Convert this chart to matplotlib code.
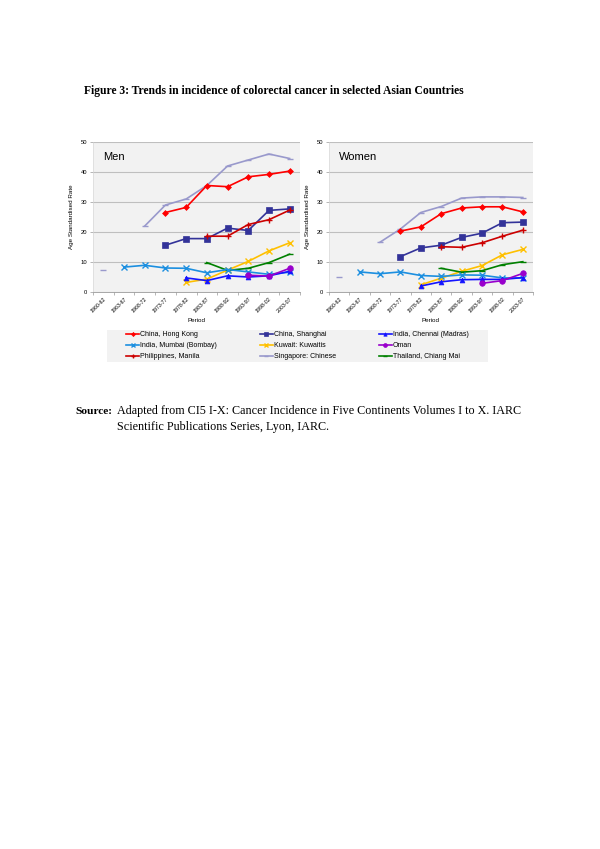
import numpy as np
import matplotlib
matplotlib.use("Agg")
from matplotlib import pyplot as plt
from matplotlib.patches import Rectangle

periods = ["1960-62", "1963-67", "1968-72", "1973-77", "1978-82",
           "1983-87", "1988-92", "1993-97", "1998-02", "2003-07"]
nan = np.nan

# Men, age standardised rate per period
men = {
    "China, Hong Kong":         [nan, nan, nan, 26.5, 28.2, 35.5, 35.1, 38.4, 39.2, 40.3],
    "China, Shanghai":          [nan, nan, nan, 15.6, 17.8, 17.8, 21.3, 20.5, 27.2, 27.7],
    "India, Chennai (Madras)":  [nan, nan, nan, nan, 4.7, 3.8, 5.4, 5.0, 5.4, 6.9],
    "India, Mumbai (Bombay)":   [nan, 8.3, 8.9, 8.0, 7.9, 6.4, 7.5, 6.7, 5.9, 6.6],
    "Kuwait: Kuwaitis":         [nan, nan, nan, nan, 3.2, 4.3, 7.3, 10.2, 13.7, 16.4],
    "Oman":                     [nan, nan, nan, nan, nan, nan, nan, 5.6, 5.3, 7.9],
    "Philippines, Manila":      [nan, nan, nan, nan, nan, 18.6, 18.6, 22.5, 24.1, 27.3],
    "Singapore: Chinese":       [7.5, nan, 22.0, 29.0, 31.0, 35.5, 42.0, 44.0, 46.0, 44.5],
    "Thailand, Chiang Mai":     [nan, nan, nan, nan, nan, 9.8, 7.2, 7.9, 9.8, 12.6],
}

# Women
women = {
    "China, Hong Kong":         [nan, nan, nan, 20.3, 21.7, 26.1, 28.0, 28.4, 28.4, 26.7],
    "China, Shanghai":          [nan, nan, nan, 11.8, 14.7, 15.6, 18.2, 19.6, 23.1, 23.3],
    "India, Chennai (Madras)":  [nan, nan, nan, nan, 2.0, 3.4, 4.1, 4.2, 4.2, 4.8],
    "India, Mumbai (Bombay)":   [nan, 6.7, 6.1, 6.7, 5.5, 5.2, 5.7, 5.6, 4.7, 4.7],
    "Kuwait: Kuwaitis":         [nan, nan, nan, nan, 2.4, 4.6, 6.9, 8.8, 12.4, 14.2],
    "Oman":                     [nan, nan, nan, nan, nan, nan, nan, 2.9, 3.8, 6.2],
    "Philippines, Manila":      [nan, nan, nan, nan, nan, 15.1, 14.9, 16.4, 18.6, 20.6],
    "Singapore: Chinese":       [4.9, nan, 16.6, 21.0, 26.5, 28.5, 31.3, 31.7, 31.7, 31.5],
    "Thailand, Chiang Mai":     [nan, nan, nan, nan, nan, 7.9, 6.6, 7.1, 9.1, 10.1],
}

styles = {
    "China, Hong Kong":        ("#FF0000", "D", 3),
    "China, Shanghai":         ("#333399", "s", 4),
    "India, Chennai (Madras)": ("#1414FF", "^", 3.5),
    "India, Mumbai (Bombay)":  ("#1C8FE0", "x", 4),
    "Kuwait: Kuwaitis":        ("#FFC000", "x", 4),
    "Oman":                    ("#9900CC", "o", 4),
    "Philippines, Manila":     ("#CC0000", "+", 5),
    "Singapore: Chinese":      ("#9999CC", "_", 4),
    "Thailand, Chiang Mai":    ("#008000", "_", 4),
}

draw_order = ["Singapore: Chinese", "China, Hong Kong", "China, Shanghai",
              "Philippines, Manila", "Kuwait: Kuwaitis", "Thailand, Chiang Mai",
              "India, Mumbai (Bombay)", "India, Chennai (Madras)", "Oman"]
legend_order = ["China, Hong Kong", "India, Mumbai (Bombay)", "Philippines, Manila",
                "China, Shanghai", "Kuwait: Kuwaitis", "Singapore: Chinese",
                "India, Chennai (Madras)", "Oman", "Thailand, Chiang Mai"]

plt.rcParams['font.family'] = ['Liberation Sans', 'DejaVu Sans']

fig = plt.figure(figsize=(6.0, 8.49), dpi=100)
W, H = 600, 849

def panel(rect, data, name):
    ax = fig.add_axes(rect)
    ax.set_facecolor("#F2F2F2")
    x = np.arange(len(periods))
    handles = {}
    for key in draw_order:
        c, m, ms = styles[key]
        mew = 1.0 if m in ("x", "+", "_") else 0.5
        h, = ax.plot(x, data[key], color=c, lw=1.2, marker=m, ms=ms,
                     mew=mew, mec=c, mfc=c, label=key)
        handles[key] = h
    ax.set_xlim(-0.5, len(periods) - 0.5)
    ax.set_ylim(0, 50)
    ax.set_yticks([0, 10, 20, 30, 40, 50])
    ax.yaxis.grid(True, color="#BFBFBF", lw=0.8)
    ax.set_axisbelow(True)
    ax.set_xticks(x)
    ax.set_xticklabels(periods, rotation=45, ha="right", rotation_mode="anchor",
                       fontsize=3.8)
    ax.set_xticks(np.arange(-0.5, len(periods)), minor=True)
    ax.tick_params(axis="x", which="major", length=0, pad=3)
    ax.tick_params(axis="x", which="minor", length=2, color="#999999", width=0.5)
    ax.tick_params(axis="y", labelsize=4.2, length=2, color="#999999", width=0.5, pad=2)
    for s in ("top", "right"):
        ax.spines[s].set_visible(False)
    ax.spines["left"].set_color("#D9D9D9")
    ax.spines["left"].set_linewidth(0.5)
    ax.spines["bottom"].set_color("#999999")
    ax.spines["bottom"].set_linewidth(0.6)
    ax.set_ylabel("Age Standardised Rate", fontsize=4.5, labelpad=5)
    ax.set_xlabel("Period", fontsize=4.5, labelpad=3)
    ax.text(0.05, 0.93, name, transform=ax.transAxes, fontsize=8, va="top", ha="left")
    return handles

h_men = panel([93 / W, 1 - 292 / H, 207 / W, 150 / H], men, "Men")
panel([329 / W, 1 - 292 / H, 204 / W, 150 / H], women, "Women")

# legend background box
fig.patches.append(Rectangle((107 / W, 1 - 362 / H), 381 / W, 32 / H,
                             transform=fig.transFigure, facecolor="#F2F2F2",
                             edgecolor="none", zorder=0))
leg = fig.legend([h_men[k] for k in legend_order], legend_order,
                 loc="upper left", bbox_to_anchor=(126 / W, 1 - 331 / H), ncol=3,
                 fontsize=5, frameon=False, handlelength=1.9,
                 handletextpad=0.1, columnspacing=6.2, borderpad=0,
                 borderaxespad=0, labelspacing=0.6, markerscale=0.7)

serif = ['Liberation Serif', 'DejaVu Serif']
fig.text(84 / W, 1 - 91 / H,
         "Figure 3: Trends in incidence of colorectal cancer in selected Asian Countries",
         family=serif, fontweight="bold", fontsize=8.4, va="center", ha="left")
fig.text(112 / W, 1 - 411 / H, "Source:", family=serif, fontweight="bold",
         fontsize=8.2, va="center", ha="right")
fig.text(117 / W, 1 - 411 / H,
         "Adapted from CI5 I-X: Cancer Incidence in Five Continents Volumes I to X. IARC",
         family=serif, fontsize=8.7, va="center", ha="left")
fig.text(117 / W, 1 - 427 / H, "Scientific Publications Series, Lyon, IARC.",
         family=serif, fontsize=8.7, va="center", ha="left")

fig.savefig("out.png", dpi=100, facecolor="white")
